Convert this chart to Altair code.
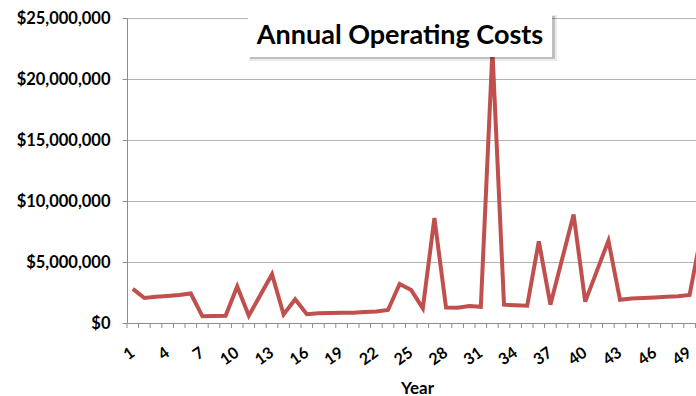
import altair as alt
import pandas as pd

years = list(range(1, 51))
costs_millions = [
    2.8, 2.05, 2.15, 2.22, 2.3, 2.42, 0.55, 0.57, 0.6, 3.0,
    0.6, 2.3, 4.0, 0.7, 1.95, 0.72, 0.8, 0.82, 0.83, 0.85,
    0.9, 0.95, 1.07, 3.2, 2.7, 1.2, 8.6, 1.26, 1.25, 1.39,
    1.33, 22.3, 1.5, 1.45, 1.42, 6.7, 1.5, 5.2, 8.9, 1.75,
    4.25, 6.75, 1.9, 2.0, 2.05, 2.1, 2.15, 2.2, 2.3, 7.3,
]
x_label_years = list(range(1, 50, 3))
y_ticks = [0, 5_000_000, 10_000_000, 15_000_000, 20_000_000, 25_000_000]
title_text = "Annual Operating Costs"
x_title = "Year"

FONT = "Lato"
LINE = "#C0504D"
GRID = "#B3B3B3"
AXIS = "#8C8C8C"

df = pd.DataFrame({"Year": years, "Cost": [v * 1_000_000 for v in costs_millions]})
bounds = pd.DataFrame({"Year": [y + 0.5 for y in range(0, 50)]})

x_scale = alt.Scale(domain=[0.5, 49.55], nice=False, zero=False)
y_scale = alt.Scale(domain=[0, 25_000_000], nice=False)

x_axis = alt.Axis(values=x_label_years, ticks=False, grid=False,
                  labelAngle=-35, labelAlign="right", labelBaseline="top",
                  labelPadding=21, labelOffset=-5, labelFont=FONT, labelFontSize=16,
                  labelFontWeight="bold", labelColor="#000000",
                  labelOverlap=False, labelFlush=False, labelBound=False,
                  domainColor=AXIS, domainWidth=1,
                  title=x_title, titleFont=FONT, titleFontSize=17,
                  titleFontWeight="bold", titleColor="#000000",
                  titleX=290, titleY=70, titleBaseline="alphabetic",
                  titleAnchor="middle", titleAlign="center")

line = alt.Chart(df).mark_line(color=LINE, strokeWidth=4, clip=True).encode(
    x=alt.X("Year:Q", scale=x_scale, axis=x_axis),
    y=alt.Y("Cost:Q", scale=y_scale,
            axis=alt.Axis(values=y_ticks, format="$,.0f", grid=True,
                          gridColor=GRID, gridWidth=1, tickColor=AXIS, tickSize=5,
                          domainColor=AXIS, labelPadding=12, labelFont=FONT,
                          labelFontSize=16.5, labelFontWeight="bold",
                          labelColor="#000000", title=None)),
)

ticks = alt.Chart(bounds).mark_rule(color=AXIS, strokeWidth=1).encode(
    x=alt.X("Year:Q", scale=x_scale, axis=x_axis),
    y=alt.value(305),
    y2=alt.value(310),
)

one = pd.DataFrame({"t": [title_text]})
shadow2 = alt.Chart(one).mark_rect(color="#000000", opacity=0.08).encode(
    x=alt.value(122), x2=alt.value(430), y=alt.value(-3), y2=alt.value(43))
shadow = alt.Chart(one).mark_rect(color="#000000", opacity=0.18).encode(
    x=alt.value(123), x2=alt.value(428), y=alt.value(-2), y2=alt.value(41))
box = alt.Chart(one).mark_rect(color="#FFFFFF").encode(
    x=alt.value(121), x2=alt.value(425), y=alt.value(-4), y2=alt.value(39))
title = alt.Chart(one).mark_text(font=FONT, fontSize=27, fontWeight="bold",
                                 color="#000000", align="center",
                                 baseline="middle").encode(
    x=alt.value(273), y=alt.value(18), text="t:N")

chart = alt.layer(line, ticks, shadow2, shadow, box, title).properties(
    width=569, height=305,
    autosize=alt.AutoSizeParams(type="none"),
    padding={"left": 127, "top": 18, "right": 0, "bottom": 73},
    background="#FFFFFF",
).configure_view(stroke=None).configure_axis(labelOverlap=False)

chart.save("out.html", embed_options={"renderer": "svg", "actions": False})
